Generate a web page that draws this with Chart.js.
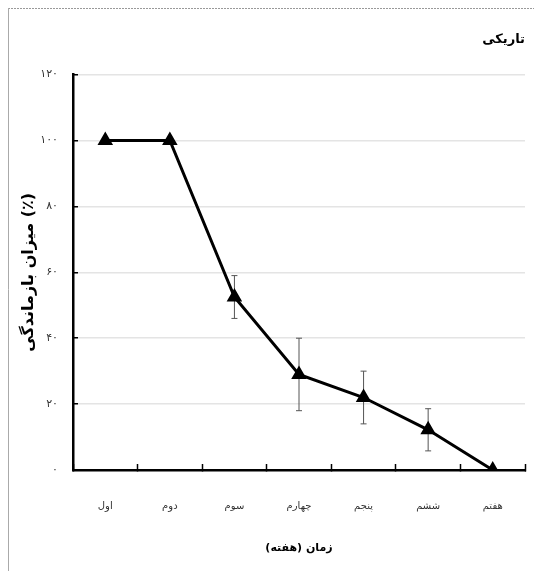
<!DOCTYPE html>
<html>
<head>
<meta charset="utf-8">
<script src="https://cdn.jsdelivr.net/npm/chart.js@4"></script>
<style>
  html, body { margin: 0; padding: 0; background: #fff; }
  #wrap { width: 534px; height: 571px; }
</style>
</head>
<body>
<div id="wrap"><canvas id="myChart"></canvas></div>
<script>
// weeks
var weeks = ["اول", "دوم", "سوم", "چهارم", "پنجم", "ششم", "هفتم"];
// survival (%) and error
var survival = [100, 100, 52.5, 29, 22, 12.2, 0];
var errs = [0, 0, 6.5, 11, 8, 6.4, 0];

function faDigits(n) {
    return String(n).replace(/[0-9]/g, function(d) { return "۰۱۲۳۴۵۶۷۸۹"[d]; });
}

var frame = {
    id: "frame",
    beforeDraw: function(chart) {
        var c = chart.ctx;
        c.save();
        c.strokeStyle = "#999";
        c.lineWidth = 1;
        c.setLineDash([2, 1]);
        c.beginPath();
        c.moveTo(8, 8.5);
        c.lineTo(534, 8.5);
        c.stroke();
        c.setLineDash([]);
        c.strokeStyle = "#aaa";
        c.beginPath();
        c.moveTo(8.5, 8);
        c.lineTo(8.5, 571);
        c.stroke();
        c.restore();
    }
};

var errorBars = {
    id: "errorBars",
    beforeDatasetsDraw: function(chart) {
        var c = chart.ctx;
        var xs = chart.scales.x, ys = chart.scales.y;
        c.save();
        c.strokeStyle = "#555";
        c.lineWidth = 1;
        for (var i = 0; i < survival.length; i++) {
            if (!errs[i]) continue;
            var x = xs.getPixelForValue(i);
            var yt = ys.getPixelForValue(survival[i] + errs[i]);
            var yb = ys.getPixelForValue(survival[i] - errs[i]);
            c.beginPath();
            c.moveTo(x, yt); c.lineTo(x, yb);
            c.moveTo(x - 3, yt); c.lineTo(x + 3, yt);
            c.moveTo(x - 3, yb); c.lineTo(x + 3, yb);
            c.stroke();
        }
        c.restore();
    }
};

new Chart("myChart", {
    type: "line",
    data: {
        labels: weeks,
        datasets: [{
            data: survival,
            borderColor: "#000",
            backgroundColor: "#000",
            borderWidth: 3,
            pointStyle: "triangle",
            pointRadius: 6,
            pointHoverRadius: 6,
            fill: false,
            tension: 0
        }]
    },
    options: {
        responsive: true,
        maintainAspectRatio: false,
        animation: false,
        layout: { padding: { left: 19, right: 9, top: 32, bottom: 16 } },
        plugins: {
            legend: { display: false },
            tooltip: { enabled: false },
            title: {
                display: true,
                text: "تاریکی",
                align: "end",
                color: "#000",
                font: { family: "DejaVu Sans", size: 13, weight: "bold" },
                padding: { top: 0, bottom: 27 }
            }
        },
        scales: {
            x: {
                offset: true,
                afterFit: function(s) {
                    // tick padding would otherwise leak into the side padding
                    s.height = 85;
                    s.paddingLeft = 0;
                    s.paddingRight = 0;
                },
                grid: {
                    display: true,
                    offset: true,
                    drawOnChartArea: false,
                    tickLength: -6,
                    tickColor: "#000",
                    tickWidth: 1.5
                },
                border: { color: "#000", width: 2.5 },
                ticks: {
                    color: "#333",
                    font: { family: "DejaVu Sans", size: 10 },
                    padding: 36
                },
                title: {
                    display: true,
                    text: "زمان (هفته)",
                    color: "#000",
                    font: { family: "DejaVu Sans", size: 11, weight: "bold" },
                    padding: { top: 0, bottom: 0 }
                }
            },
            y: {
                min: 0,
                max: 120,
                afterFit: function(s) {
                    s.width = 54;
                    s.paddingTop = 0;
                    s.paddingBottom = 0;
                },
                grid: {
                    color: "#e4e4e4",
                    lineWidth: 1.5,
                    tickLength: -5,
                    tickColor: "#000",
                    tickWidth: 1.5
                },
                border: { color: "#000", width: 2.5 },
                ticks: {
                    stepSize: 20,
                    color: "#333",
                    font: { family: "DejaVu Sans", size: 11 },
                    padding: 20,
                    callback: function(v) { return faDigits(v); }
                },
                title: {
                    display: true,
                    text: "میزان بازماندگی (٪)",
                    color: "#000",
                    font: { family: "DejaVu Sans", size: 16, weight: "bold" },
                    padding: { top: 0, bottom: 0 }
                }
            }
        }
    },
    plugins: [frame, errorBars]
});
</script>
</body>
</html>
